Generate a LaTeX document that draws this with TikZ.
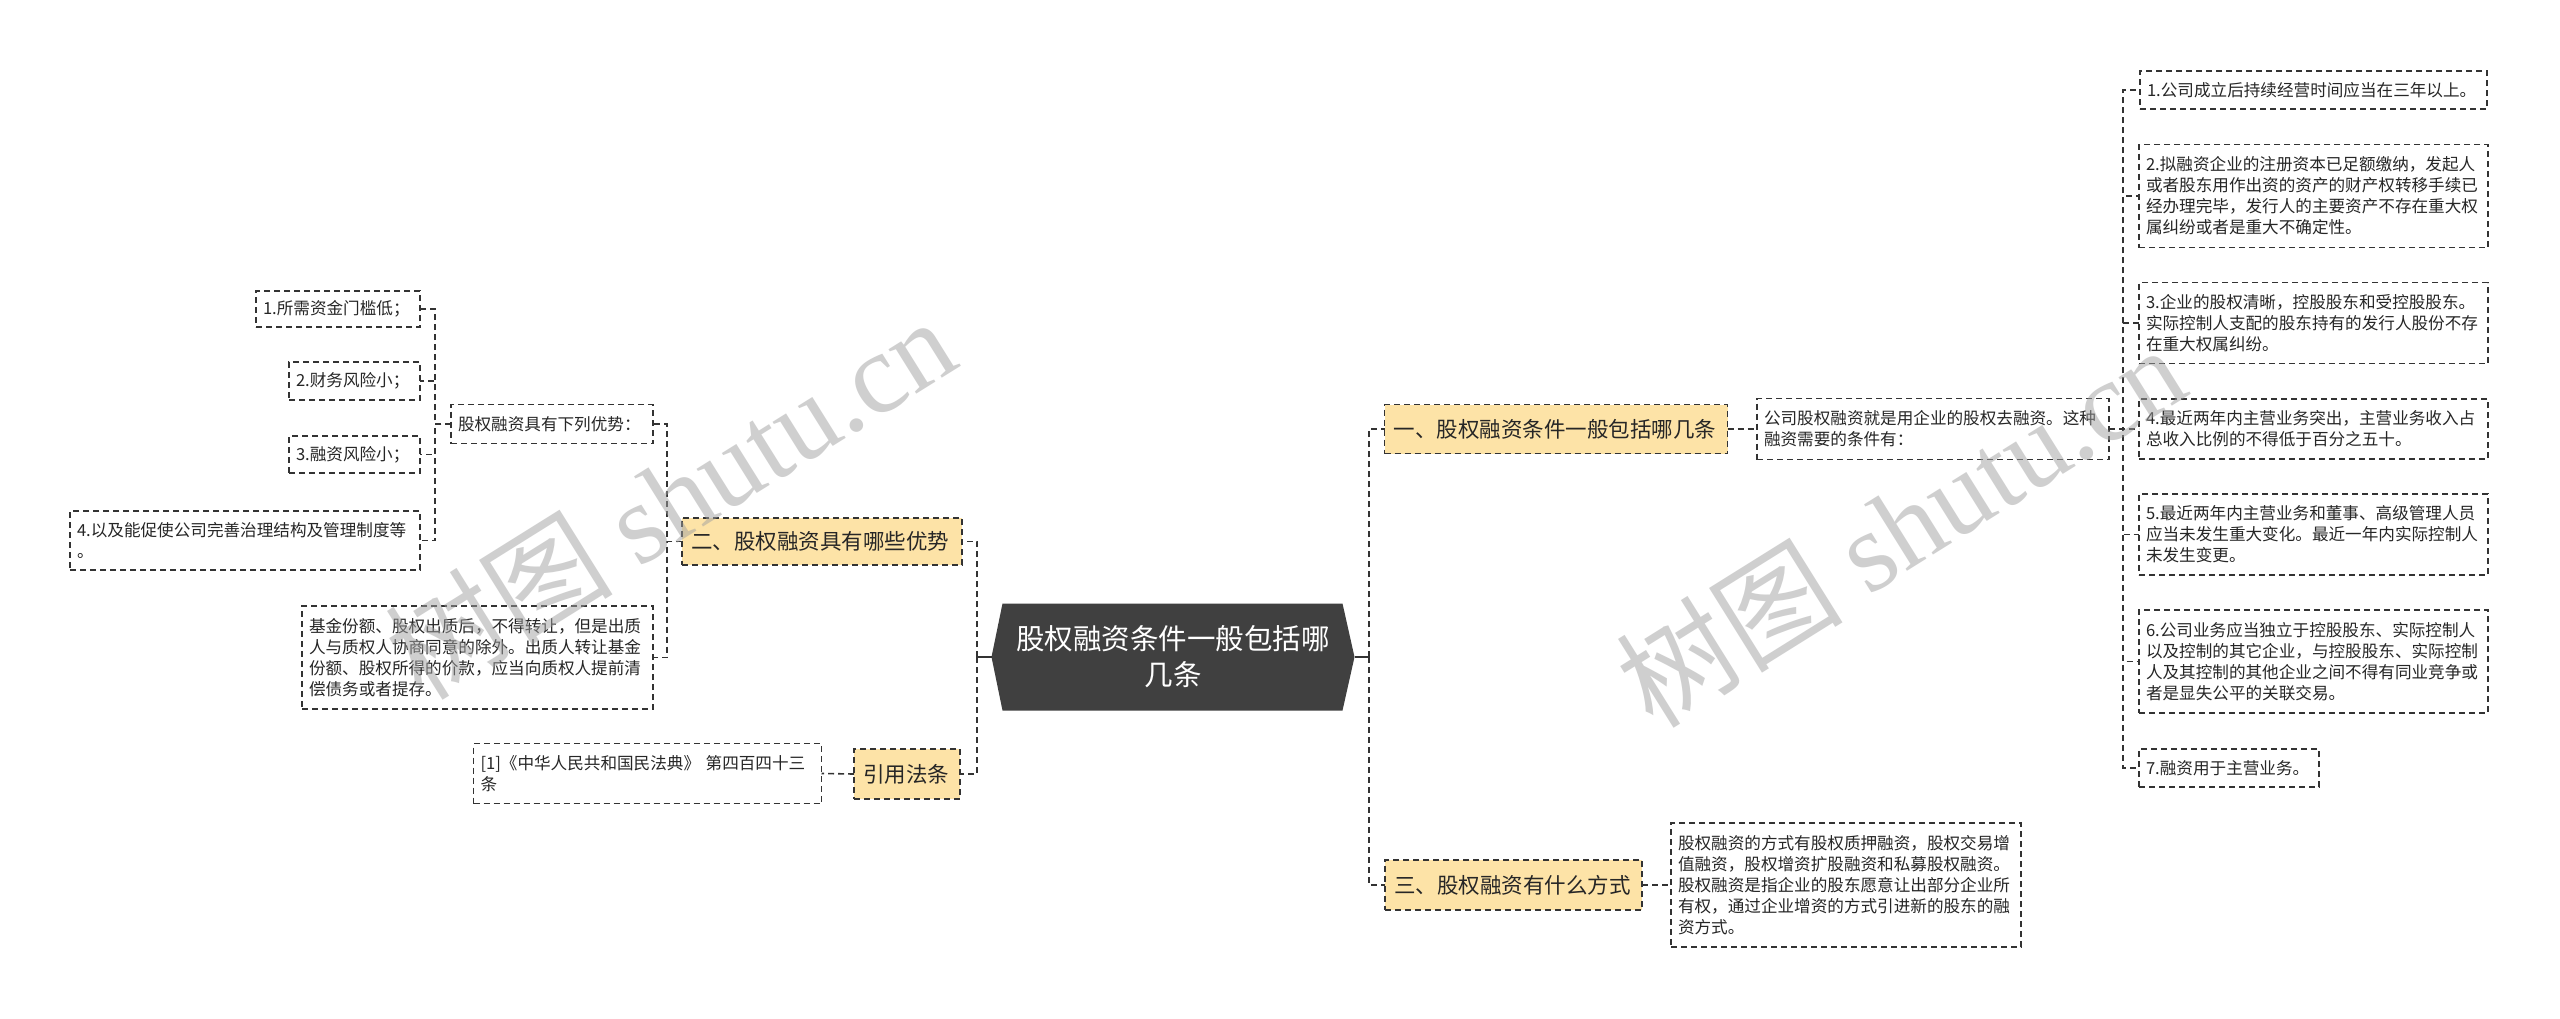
\documentclass[tikz,border=0pt]{standalone}
\usepackage{fontspec}
\setmainfont{Noto Sans CJK SC}
\newfontfamily\wmserif{Liberation Serif}
\usetikzlibrary{backgrounds}
\definecolor{lineC}{HTML}{333333}
\definecolor{yel}{HTML}{FDE3A7}
\definecolor{rootC}{HTML}{404040}
\definecolor{txtC}{HTML}{262626}
\definecolor{wmC}{HTML}{A0A0A0}
\begin{document}
\begin{tikzpicture}[x=1pt,y=-1pt,
  box/.style={draw=lineC, line width=1.5pt, dash pattern=on 6pt off 4pt, inner xsep=7pt, inner ysep=3pt, outer sep=0pt, text=txtC, align=left},
  leaf/.style={box, font=\fontsize{16.6}{21}\selectfont},
  mainbox/.style={box, fill=yel, font=\fontsize{21.5}{26}\selectfont, inner xsep=9pt},
  conn/.style={draw=lineC, line width=1.6pt, dash pattern=on 6pt off 4pt},
  solidconn/.style={draw=lineC, line width=2pt},
  wm/.style={text=wmC, opacity=0.5, rotate=32, font=\fontsize{114}{114}\selectfont, inner sep=0pt}]

\begin{scope}[on background layer]
\fill[white] (0,0) rectangle (2560,1018);
\end{scope}
\useasboundingbox (0,0) rectangle (2560,1018);

% root
\node[minimum width=363pt, minimum height=107pt, inner sep=0pt, outer sep=0pt, text=white, align=center, font=\fontsize{28.5}{36}\selectfont] (root) at (1173,657) {股权融资条件一般包括哪\\几条};
\begin{scope}[on background layer]
\fill[rootC] (root.west) -- ([xshift=11pt]root.north west) -- ([xshift=-12pt]root.north east) -- (root.east) -- ([xshift=-12pt]root.south east) -- ([xshift=11pt]root.south west) -- cycle;
\end{scope}

% right main branches
\node[mainbox, text width=325pt, minimum height=49pt] (n1) at (1556,429) {一、股权融资条件一般包括哪几条};
\node[mainbox, text width=239pt, minimum height=50pt] (n3) at (1513.5,885) {三、股权融资有什么方式};

% left main branches
\node[mainbox, text width=262pt, minimum height=47pt] (n2) at (822,541.5) {二、股权融资具有哪些优势};
\node[mainbox, text width=88pt, minimum height=50pt] (n4) at (907,774) {引用法条};

% children of n1
\node[leaf, text width=338pt, minimum height=61pt] (d) at (1933,429) {公司股权融资就是用企业的股权去融资。这种\\融资需要的条件有：};
\node[leaf, text width=333pt, minimum height=38pt] (r1) at (2313.5,90) {1.公司成立后持续经营时间应当在三年以上。};
\node[leaf, text width=335pt, minimum height=103pt] (r2) at (2313.5,196) {2.拟融资企业的注册资本已足额缴纳，发起人\\或者股东用作出资的资产的财产权转移手续已\\经办理完毕，发行人的主要资产不存在重大权\\属纠纷或者是重大不确定性。};
\node[leaf, text width=335pt, minimum height=81pt] (r3) at (2313.5,323) {3.企业的股权清晰，控股股东和受控股股东。\\实际控制人支配的股东持有的发行人股份不存\\在重大权属纠纷。};
\node[leaf, text width=335pt, minimum height=60pt] (r4) at (2313.5,429) {4.最近两年内主营业务突出，主营业务收入占\\总收入比例的不得低于百分之五十。};
\node[leaf, text width=335pt, minimum height=81pt] (r5) at (2313.5,534.5) {5.最近两年内主营业务和董事、高级管理人员\\应当未发生重大变化。最近一年内实际控制人\\未发生变更。};
\node[leaf, text width=335pt, minimum height=103pt] (r6) at (2313.5,661.5) {6.公司业务应当独立于控股股东、实际控制人\\以及控制的其它企业，与控股股东、实际控制\\人及其控制的其他企业之间不得有同业竞争或\\者是显失公平的关联交易。};
\node[leaf, text width=166pt, minimum height=38pt] (r7) at (2229,768) {7.融资用于主营业务。};

% child of n3
\node[leaf, text width=336pt, minimum height=124pt] (e) at (1846,885) {股权融资的方式有股权质押融资，股权交易增\\值融资，股权增资扩股融资和私募股权融资。\\股权融资是指企业的股东愿意让出部分企业所\\有权，通过企业增资的方式引进新的股东的融\\资方式。};

% children of n2
\node[leaf, text width=188pt, minimum height=39pt] (a) at (552,424) {股权融资具有下列优势：};
\node[leaf, text width=337pt, minimum height=103pt] (b) at (477.5,657.5) {基金份额、股权出质后，不得转让，但是出质\\人与质权人协商同意的除外。出质人转让基金\\份额、股权所得的价款，应当向质权人提前清\\偿债务或者提存。};
\node[leaf, text width=150pt, minimum height=36pt] (l1) at (338,309) {1.所需资金门槛低；};
\node[leaf, text width=117pt, minimum height=38pt] (l2) at (354.5,381) {2.财务风险小；};
\node[leaf, text width=117pt, minimum height=37pt] (l3) at (354.5,454.5) {3.融资风险小；};
\node[leaf, text width=336pt, minimum height=59pt] (l4) at (245,540.5) {4.以及能促使公司完善治理结构及管理制度等\\。};

% child of n4
\node[leaf, text width=334pt, minimum height=60pt] (c) at (647.5,773.5) {[1]《中华人民共和国民法典》 第四百四十三\\条};

% connectors
\coordinate (rb) at (1369,657);
\coordinate (lb) at (977,657);
\draw[solidconn] (root.east) -- (rb);
\draw[solidconn] (root.west) -- (lb);
\draw[conn] (rb) |- (n1.west);
\draw[conn] (rb) |- (n3.west);
\draw[conn] (lb) |- (n2.east);
\draw[conn] (lb) |- (n4.east);

\draw[conn] (n1.east) -- (d.west);
\draw[conn] (n3.east) -- (e.west);
\draw[conn] (n4.west) -- (c.east);

\foreach \t in {r1,r2,r3,r4,r5,r6,r7}
  \draw[conn] (d.east) -- ++(14,0) |- (\t.west);

\draw[conn] (n2.west) -- ++(-15,0) |- (a.east);
\draw[conn] (n2.west) -- ++(-15,0) |- (b.east);

\foreach \t in {l1,l2,l3,l4}
  \draw[conn] (a.west) -- ++(-16,0) |- (\t.east);

% watermarks
\node[wm] (wm1) at (670,497) {树图 {\wmserif shutu.cn}};
\node[wm] (wm2) at (1900,525) {树图 {\wmserif shutu.cn}};
\end{tikzpicture}
\end{document}
